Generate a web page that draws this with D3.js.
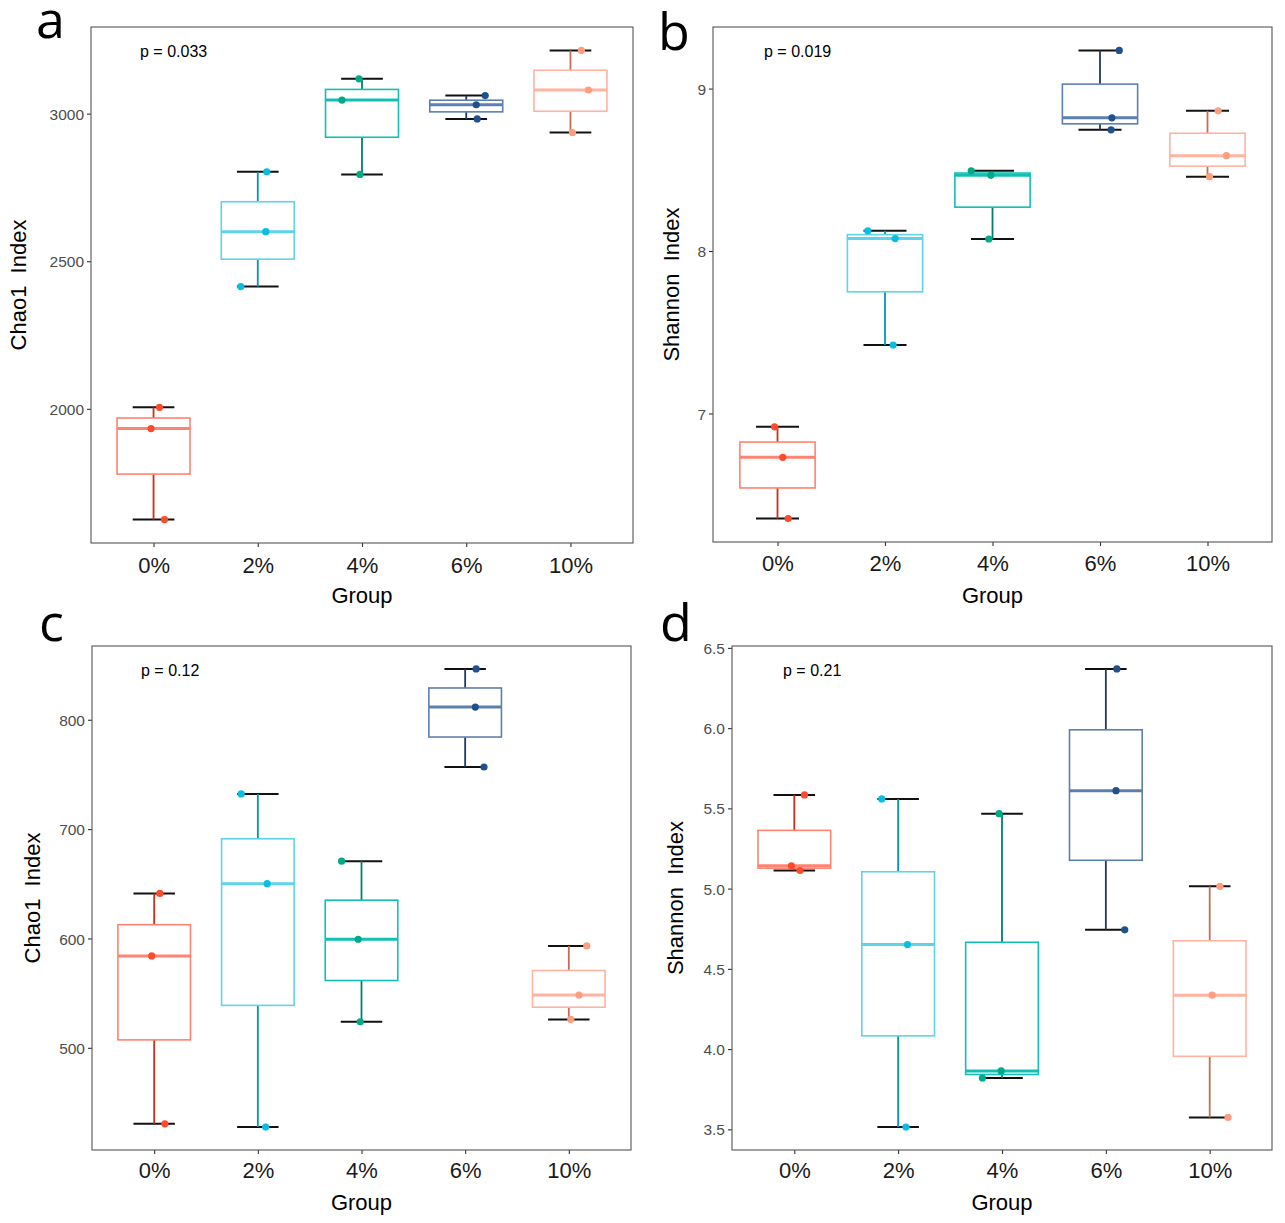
<!DOCTYPE html>
<html>
<head>
<meta charset="utf-8">
<script src="https://cdn.jsdelivr.net/npm/d3@7"></script>
<style>
  body { margin: 0; background: #fff; }
  text { font-family: "Liberation Sans", Arial, sans-serif; }
</style>
</head>
<body>
<script>
// groups and colours
var groups = [ "0%", "2%", "4%", "6%", "10%" ];
var boxColors     = [ "#ff8370", "#5fd3ea", "#12c0b3", "#5c7fb0", "#ffb3a0" ];
var pointColors   = [ "#ff4b2b", "#0abde3", "#00a988", "#22508f", "#ff9e7e" ];
var whiskerColors = [ "#cc2e1a", "#0097b0", "#00806a", "#1f3a5f", "#c86b5a" ];

// values, three samples per group
var chaoA = [ [2005, 1933, 1625], [2803, 2600, 2414], [3118, 3046, 2794], [3061, 3030, 2982], [3214, 3080, 2936] ];
var shanB = [ [6.918, 6.730, 6.353], [8.125, 8.077, 7.421], [8.494, 8.466, 8.074], [9.235, 8.820, 8.746], [8.863, 8.587, 8.458] ];
var chaoC = [ [641.2, 584, 430.5], [732.2, 650.1, 427.5], [670.7, 599.3, 523.8], [846.5, 811.6, 756.8], [593.2, 548.2, 526] ];
var shanD = [ [5.584, 5.142, 5.113], [5.559, 4.651, 3.514], [5.467, 3.864, 3.820], [6.369, 5.610, 4.743], [5.014, 4.336, 3.574] ];

// horizontal jitter of each point (fraction of a group step)
var jitA = [ [0.057, -0.024, 0.105], [0.086, 0.077, -0.163], [-0.029, -0.192, -0.019], [0.182, 0.096, 0.105], [0.105, 0.172, 0.019] ];
var jitB = [ [-0.027, 0.049, 0.099], [-0.16, 0.095, 0.076], [-0.198, -0.015, -0.034], [0.179, 0.111, 0.103], [0.099, 0.176, 0.019] ];
var jitC = [ [0.055, -0.024, 0.103], [-0.161, 0.09, 0.075], [-0.192, -0.032, -0.012], [0.106, 0.098, 0.182], [0.173, 0.098, 0.019] ];
var jitD = [ [0.098, -0.028, 0.055], [-0.158, 0.09, 0.075], [-0.028, -0.008, -0.189], [0.106, 0.098, 0.182], [0.098, 0.024, 0.177] ];

// tick labels
var ticksA = [ 2000, 2500, 3000 ];
var ticksB = [ 7, 8, 9 ];
var ticksC = [ 500, 600, 700, 800 ];
var ticksD = [ 3.5, 4.0, 4.5, 5.0, 5.5, 6.0, 6.5 ];

var pA = "p = 0.033", pB = "p = 0.019", pC = "p = 0.12", pD = "p = 0.21";

var svg = d3.select( "body" ).append( "svg" )
  .attr( "width", 1285 )
  .attr( "height", 1223 );

var panels = [
  { letter: "a", lx: 36, ly: 38, values: chaoA, jit: jitA, ticks: ticksA, fmt: d3.format( "d" ), p: pA, title: "Chao1  Index",
    x0: 91, x1: 633, y0: 27, y1: 543, tx: 26, xtb: 573, gb: 603 },
  { letter: "b", lx: 658, ly: 50, values: shanB, jit: jitB, ticks: ticksB, fmt: d3.format( "d" ), p: pB, title: "Shannon  Index",
    x0: 713, x1: 1272, y0: 27, y1: 542, tx: 679, xtb: 571, gb: 603 },
  { letter: "c", lx: 39, ly: 641, values: chaoC, jit: jitC, ticks: ticksC, fmt: d3.format( "d" ), p: pC, title: "Chao1  Index",
    x0: 92, x1: 631, y0: 646, y1: 1150, tx: 40, xtb: 1178, gb: 1210 },
  { letter: "d", lx: 660, ly: 641, values: shanD, jit: jitD, ticks: ticksD, fmt: d3.format( ".1f" ), p: pD, title: "Shannon  Index",
    x0: 732, x1: 1272, y0: 646, y1: 1150, tx: 683, xtb: 1178, gb: 1210 }
];

panels.forEach( drawPanel );

function drawPanel( P ){
  var g = svg.append( "g" );

  var x = d3.scalePoint()
    .domain( groups )
    .range( [ P.x0, P.x1 ] )
    .padding( 0.6 );
  var step = x.step();

  var all = d3.merge( P.values );
  var lo = d3.min( all ), hi = d3.max( all ), pad = ( hi - lo ) * 0.05;
  var y = d3.scaleLinear()
    .domain( [ lo - pad, hi + pad ] )
    .range( [ P.y1, P.y0 ] );

  // panel background and border
  g.append( "rect" )
    .attr( "x", P.x0 ).attr( "y", P.y0 )
    .attr( "width", P.x1 - P.x0 ).attr( "height", P.y1 - P.y0 )
    .attr( "fill", "#fff" );

  // axes
  var yAxis = g.append( "g" )
    .attr( "transform", "translate(" + P.x0 + ",0)" )
    .call( d3.axisLeft( y ).tickValues( P.ticks ).tickFormat( P.fmt ).tickSize( 4 ).tickPadding( 3 ) );
  yAxis.select( ".domain" ).remove();
  yAxis.selectAll( "line" ).attr( "stroke", "#333" ).attr( "stroke-width", 1.1 );
  yAxis.selectAll( "text" ).attr( "fill", "#4d4d4d" ).style( "font-size", "15.5px" ).attr( "dy", "0.36em" );

  var xAxis = g.append( "g" )
    .attr( "transform", "translate(0," + P.y1 + ")" )
    .call( d3.axisBottom( x ).tickSize( 4 ) );
  xAxis.select( ".domain" ).remove();
  xAxis.selectAll( "line" ).attr( "stroke", "#333" ).attr( "stroke-width", 1.1 );
  xAxis.selectAll( "text" )
    .attr( "fill", "#1a1a1a" )
    .style( "font-size", "22px" )
    .attr( "y", P.xtb - P.y1 )
    .attr( "dy", null );

  // per-group stats
  var stats = P.values.map( function( v, i ){
    var s = v.slice().sort( d3.ascending );
    return {
      i: i,
      min: s[0], max: s[s.length - 1],
      q1: d3.quantile( s, 0.25 ), med: d3.quantile( s, 0.5 ), q3: d3.quantile( s, 0.75 )
    };
  });

  var boxW = step * 0.7, capW = step * 0.4;

  var grp = g.selectAll( ".grp" )
    .data( stats )
    .enter().append( "g" );

  // black whisker caps
  grp.selectAll( ".cap" )
    .data( function( d ){ return [ d.min, d.max ].map( function( v ){ return { i: d.i, v: v }; } ); } )
    .enter().append( "line" )
      .attr( "x1", function( d ){ return x( groups[d.i] ) - capW / 2; } )
      .attr( "x2", function( d ){ return x( groups[d.i] ) + capW / 2; } )
      .attr( "y1", function( d ){ return y( d.v ); } )
      .attr( "y2", function( d ){ return y( d.v ); } )
      .attr( "stroke", "#111" )
      .attr( "stroke-width", 2 );

  // coloured whiskers
  grp.append( "line" )
    .attr( "x1", function( d ){ return x( groups[d.i] ); } )
    .attr( "x2", function( d ){ return x( groups[d.i] ); } )
    .attr( "y1", function( d ){ return y( d.max ); } )
    .attr( "y2", function( d ){ return y( d.min ); } )
    .attr( "stroke", function( d ){ return whiskerColors[d.i]; } )
    .attr( "stroke-width", 1.8 );

  // boxes
  grp.append( "rect" )
    .attr( "x", function( d ){ return x( groups[d.i] ) - boxW / 2; } )
    .attr( "width", boxW )
    .attr( "y", function( d ){ return y( d.q3 ); } )
    .attr( "height", function( d ){ return y( d.q1 ) - y( d.q3 ); } )
    .attr( "fill", "#fff" )
    .attr( "stroke", function( d ){ return boxColors[d.i]; } )
    .attr( "stroke-width", 1.6 );

  // medians
  grp.append( "line" )
    .attr( "x1", function( d ){ return x( groups[d.i] ) - boxW / 2; } )
    .attr( "x2", function( d ){ return x( groups[d.i] ) + boxW / 2; } )
    .attr( "y1", function( d ){ return y( d.med ); } )
    .attr( "y2", function( d ){ return y( d.med ); } )
    .attr( "stroke", function( d ){ return boxColors[d.i]; } )
    .attr( "stroke-width", 3 );

  // jittered points
  var pts = [];
  P.values.forEach( function( v, i ){
    v.forEach( function( val, j ){ pts.push( { i: i, v: val, j: P.jit[i][j] } ); } );
  });
  g.selectAll( ".pt" )
    .data( pts )
    .enter().append( "circle" )
      .attr( "cx", function( d ){ return x( groups[d.i] ) + d.j * step; } )
      .attr( "cy", function( d ){ return y( d.v ); } )
      .attr( "r", 3.6 )
      .attr( "fill", function( d ){ return pointColors[d.i]; } );

  // border on top
  g.append( "rect" )
    .attr( "x", P.x0 ).attr( "y", P.y0 )
    .attr( "width", P.x1 - P.x0 ).attr( "height", P.y1 - P.y0 )
    .attr( "fill", "none" )
    .attr( "stroke", "#555" )
    .attr( "stroke-width", 1.1 );

  // p value
  g.append( "text" )
    .attr( "x", P.x0 + ( P.x0 > 600 ? 51 : 49 ) )
    .attr( "y", P.y0 + 29.5 )
    .style( "font-size", "16px" )
    .attr( "fill", "#000" )
    .text( P.p );

  // axis titles
  g.append( "text" )
    .attr( "transform", "translate(" + P.tx + "," + ( ( P.y0 + P.y1 ) / 2 ) + ") rotate(-90)" )
    .attr( "text-anchor", "middle" )
    .style( "font-size", "22px" )
    .style( "white-space", "pre" )
    .attr( "fill", "#000" )
    .text( P.title );

  g.append( "text" )
    .attr( "x", ( P.x0 + P.x1 ) / 2 )
    .attr( "y", P.gb )
    .attr( "text-anchor", "middle" )
    .style( "font-size", "22px" )
    .attr( "fill", "#000" )
    .text( "Group" );

  // panel letter
  g.append( "text" )
    .attr( "x", P.lx )
    .attr( "y", P.ly )
    .style( "font-family", "'Open Sans', 'Noto Sans', sans-serif" )
    .style( "font-size", "52px" )
    .attr( "fill", "#000" )
    .text( P.letter );
}
</script>
</body>
</html>
